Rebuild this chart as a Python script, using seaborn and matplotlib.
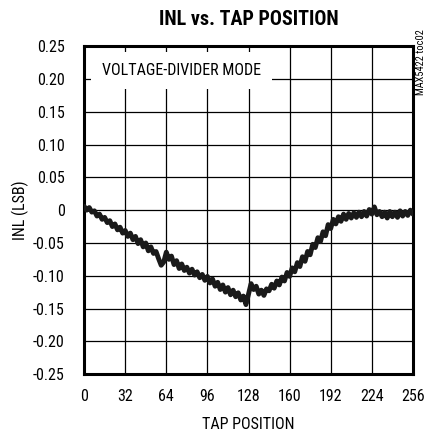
import matplotlib
matplotlib.use("Agg")
import matplotlib.pyplot as plt
from matplotlib import font_manager
import pandas as pd
import seaborn as sns
import numpy as np

sns.set_style("white")

# pick a narrow face if one is around
names = {f.name for f in font_manager.fontManager.ttflist}
narrow = [n for n in ['Liberation Sans Narrow', 'Roboto Condensed', 'DejaVu Sans Condensed',
                      'Open Sans Condensed'] if n in names]
plt.rcParams['font.family'] = narrow + ['DejaVu Sans']
plt.rcParams['text.color'] = 'black'
plt.rcParams['axes.labelcolor'] = 'black'
plt.rcParams['xtick.color'] = 'black'
plt.rcParams['ytick.color'] = 'black'
shrink = 1.0 if narrow else 0.86

# INL, every 2nd tap
tap = list(range(0, 257, 2))
inl = [0.006, 0.000, 0.004, -0.003, -0.001, -0.009, -0.006, -0.014, -0.011, -0.019,
       -0.016, -0.025, -0.021, -0.030, -0.026, -0.035, -0.031, -0.040, -0.035, -0.045,
       -0.040, -0.051, -0.045, -0.056, -0.050, -0.062, -0.056, -0.066, -0.063, -0.074,
       -0.084, -0.079, -0.064, -0.075, -0.070, -0.083, -0.077, -0.089, -0.082, -0.092,
       -0.087, -0.096, -0.090, -0.099, -0.094, -0.103, -0.098, -0.107, -0.101, -0.111,
       -0.105, -0.116, -0.110, -0.121, -0.114, -0.125, -0.118, -0.129, -0.122, -0.132,
       -0.126, -0.137, -0.131, -0.144, -0.128, -0.112, -0.121, -0.116, -0.128, -0.122,
       -0.130, -0.120, -0.123, -0.113, -0.119, -0.108, -0.114, -0.102, -0.108, -0.095,
       -0.101, -0.088, -0.094, -0.080, -0.086, -0.071, -0.078, -0.063, -0.068, -0.052,
       -0.057, -0.042, -0.048, -0.033, -0.039, -0.022, -0.028, -0.014, -0.021, -0.010,
       -0.017, -0.006, -0.014, -0.005, -0.012, -0.004, -0.011, -0.003, -0.010, -0.002,
       -0.009, 0.001, -0.006, 0.005, -0.007, -0.002, -0.010, -0.003, -0.012, -0.002,
       -0.010, -0.003, -0.011, -0.001, -0.009, -0.002, -0.008, 0.000, -0.006]
xticks = [0, 32, 64, 96, 128, 160, 192, 224, 256]
yticks = [0.25, 0.20, 0.15, 0.10, 0.05, 0, -0.05, -0.10, -0.15, -0.20, -0.25]
ytick_labels = ['0.25', '0.20', '0.15', '0.10', '0.05', '0', '-0.05', '-0.10',
                '-0.15', '-0.20', '-0.25']

df = pd.DataFrame({'tap': tap, 'inl': inl})

fig = plt.figure(figsize=(4.27, 4.32), dpi=100)
ax = fig.add_axes([0.197, 0.134, 0.770, 0.759])
sns.lineplot(data=df, x='tap', y='inl', ax=ax, color='#1a1a1a', linewidth=3.5, zorder=3)

ax.set_xlim(0, 256)
ax.set_ylim(-0.25, 0.25)
ax.set_xticks(xticks)
ax.set_yticks(yticks)
ax.set_yticklabels(ytick_labels)
ax.grid(True, color='black', linewidth=0.9)
ax.tick_params(axis='both', length=0, labelsize=11.5 * shrink)
ax.tick_params(axis='y', pad=14)
ax.tick_params(axis='x', pad=11)
for s in ax.spines.values():
    s.set_visible(True)
    s.set_color('black')
    s.set_linewidth(2.2)

ax.set_xlabel('TAP POSITION', fontsize=11.5 * shrink, labelpad=9)
ax.set_ylabel('INL (LSB)', fontsize=11.5 * shrink, labelpad=3)
ax.set_title('INL vs. TAP POSITION', fontsize=14.5 * shrink, fontweight='bold', pad=15)

ax.text(14, 0.213, 'VOLTAGE-DIVIDER MODE', fontsize=11.5 * shrink, va='center', ha='left',
        zorder=4, bbox=dict(facecolor='white', edgecolor='none', boxstyle='square,pad=0.7'))
fig.text(0.986, 0.856, 'MAX5422 toc02', rotation=90, fontsize=7.5, ha='center', va='center')

fig.savefig('out.png', dpi=100)
